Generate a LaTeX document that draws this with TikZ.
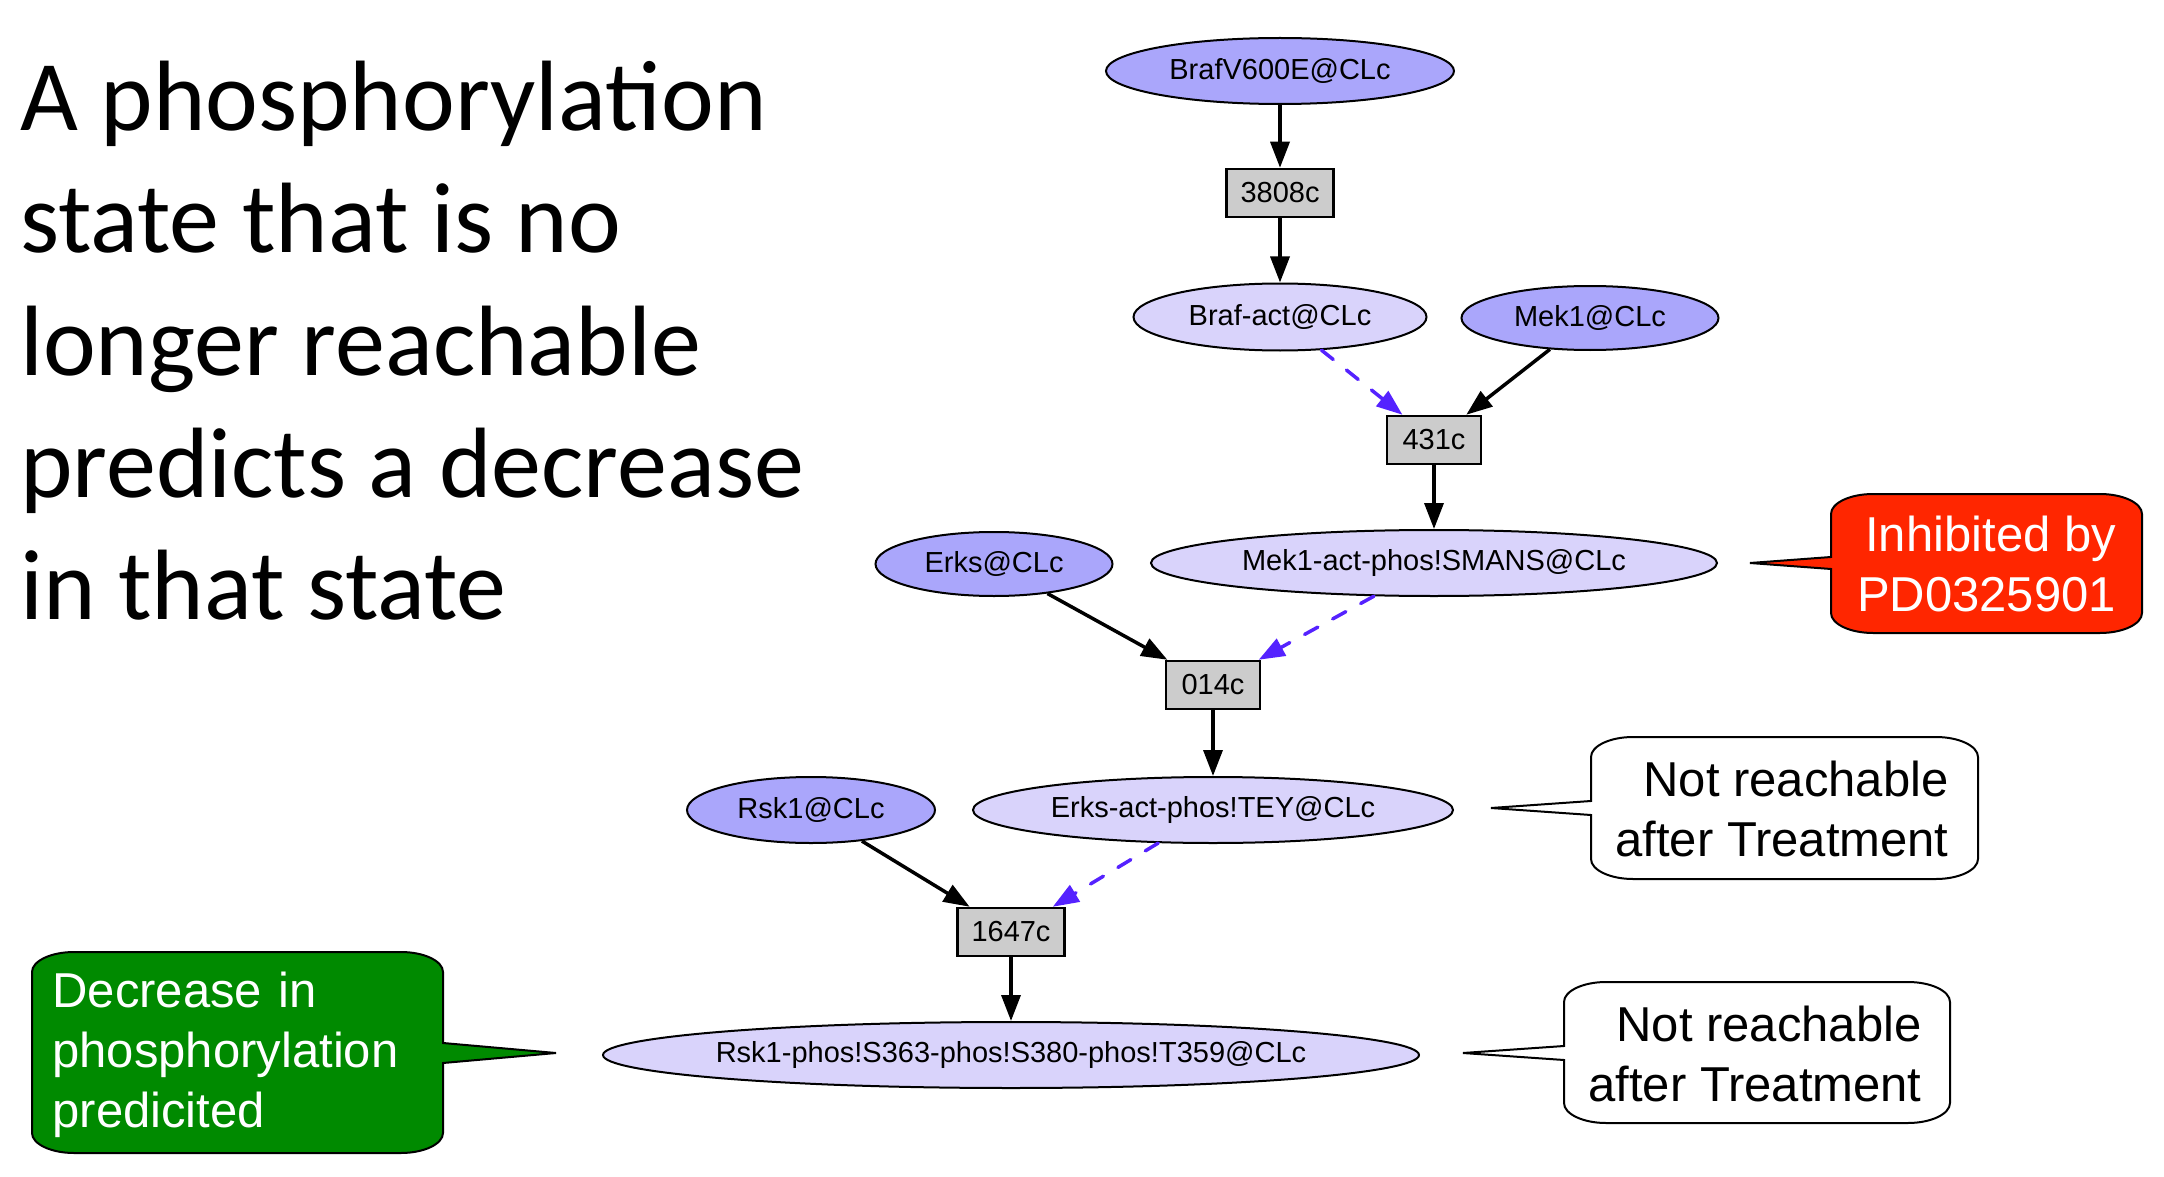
\documentclass[tikz,border=0pt]{standalone}
\usepackage{fontspec}
\setmainfont{Liberation Sans}
\newfontfamily\titlefont{Carlito}
\usetikzlibrary{arrows.meta,shapes.geometric}
\definecolor{darkell}{RGB}{170,166,251}
\definecolor{lightell}{RGB}{217,211,251}
\definecolor{boxgray}{RGB}{204,204,204}
\definecolor{dashblue}{RGB}{85,34,255}
\definecolor{calred}{RGB}{255,38,0}
\definecolor{calgreen}{RGB}{0,138,0}
% callout with pointer on the left side
\newcommand\mycallout[8]{%
 \draw[calloutline, fill=#8]
 ({#1+42},#2) -- ({#3-42},#2) .. controls ({#3-19},#2) and (#3,{#2+9}) .. (#3,{#2+20})
 -- (#3,{#4-20}) .. controls (#3,{#4-9}) and ({#3-19},#4) .. ({#3-42},#4)
 -- ({#1+42},#4) .. controls ({#1+19},#4) and (#1,{#4-9}) .. (#1,{#4-20})
 -- (#1,{#6+#7}) -- (#5,#6) -- (#1,{#6-#7})
 -- (#1,{#2+20}) .. controls (#1,{#2+9}) and ({#1+19},#2) .. ({#1+42},#2) -- cycle;}
% callout with pointer on the right side
\newcommand\mycalloutR[8]{%
 \draw[calloutline, fill=#8]
 ({#1+42},#2) -- ({#3-42},#2) .. controls ({#3-19},#2) and (#3,{#2+9}) .. (#3,{#2+20})
 -- (#3,{#6-#7}) -- (#5,#6) -- (#3,{#6+#7})
 -- (#3,{#4-20}) .. controls (#3,{#4-9}) and ({#3-19},#4) .. ({#3-42},#4)
 -- ({#1+42},#4) .. controls ({#1+19},#4) and (#1,{#4-9}) .. (#1,{#4-20})
 -- (#1,{#2+20}) .. controls (#1,{#2+9}) and ({#1+19},#2) .. ({#1+42},#2) -- cycle;}
\begin{document}
\begin{tikzpicture}[x=1pt,y=-1pt,
  titleline/.style={font=\titlefont\fontsize{100}{122}\selectfont, inner sep=0pt, anchor=base west},
  ell/.style={ellipse, draw, line width=2pt, inner sep=0pt, font=\fontsize{29}{35}\selectfont},
  dark/.style={ell, fill=darkell},
  light/.style={ell, fill=lightell},
  rbox/.style={rectangle, draw, line width=2.5pt, fill=boxgray, inner xsep=14pt, inner ysep=0pt, minimum width=94pt, minimum height=48pt, font=\fontsize{29}{35}\selectfont},
  arr/.style={line width=3.5pt, -{Triangle[length=26pt,width=19pt]}},
  darr/.style={line width=3.5pt, dashblue, line cap=round, dash pattern=on 15pt off 17pt, -{Triangle[length=26pt,width=19pt]}},
  calloutline/.style={line width=2pt, draw=black},
  ctext/.style={font=\fontsize{49}{60}\selectfont, inner sep=0pt}
]
\useasboundingbox (0,0) rectangle (2164,1177);

% title
\node[titleline] (t1) at (20,131) {A phosphorylation};
\node[titleline] (t2) at (20,253) {state that is no};
\node[titleline] (t3) at (20,375) {longer reachable};
\node[titleline] (t4) at (20,497) {predicts a decrease};
\node[titleline] (t5) at (20,619) {in that state};

% graph nodes
\node[dark, minimum width=348pt, minimum height=66pt] (n1) at (1280,71) {BrafV600E@CLc};
\node[rbox] (b1) at (1280,193) {3808c};
\node[light, minimum width=293pt, minimum height=67pt] (n2) at (1280,317) {Braf-act@CLc};
\node[dark, minimum width=257pt, minimum height=64pt] (n3) at (1590,318) {Mek1@CLc};
\node[rbox] (b2) at (1434,440) {431c};
\node[light, minimum width=566pt, minimum height=66pt] (n4) at (1434,563) {Mek1-act-phos!SMANS@CLc};
\node[dark, minimum width=237pt, minimum height=64pt] (n5) at (994,564) {Erks@CLc};
\node[rbox] (b3) at (1213,685) {014c};
\node[light, minimum width=480pt, minimum height=66pt] (n6) at (1213,810) {Erks-act-phos!TEY@CLc};
\node[dark, minimum width=248pt, minimum height=66pt] (n7) at (811,810) {Rsk1@CLc};
\node[rbox] (b4) at (1011,932) {1647c};
\node[light, minimum width=816pt, minimum height=66pt] (n8) at (1011,1055) {\makebox[0pt]{Rsk1-phos!S363-phos!S380-phos!T359@CLc}};

% edges
\draw[arr] (n1) -- (b1);
\draw[arr] (b1) -- (n2);
\draw[darr] (n2) -- (b2);
\draw[arr] (n3) -- (b2);
\draw[arr] (b2) -- (n4);
\draw[arr] (n5) -- (b3);
\draw[darr] (n4) -- (b3);
\draw[arr] (b3) -- (n6);
\draw[arr] (n7) -- (b4);
\draw[darr] (n6) -- (b4);
\draw[arr] (b4) -- (n8);

% callouts
\mycallout{1831}{494}{2142}{633}{1750}{563}{6}{calred}
\node[ctext, text=white, align=right] (c1) at (1986.5,564) {Inhibited by\\PD0325901};

\mycallout{1591}{737}{1978}{879}{1491}{808}{7}{white}
\node[ctext, align=right] (c2) at (1782,809) {Not reachable\\after Treatment};

\mycallout{1564}{982}{1950}{1123}{1463}{1053}{7}{white}
\node[ctext, align=right] (c3) at (1755,1054) {Not reachable\\after Treatment};

\mycalloutR{32}{952}{443}{1153}{556}{1053}{10}{calgreen}
\node[ctext, text=white, text width=378pt, align=left] (c4) at (241.5,1055) {Decrease in\\phosphorylation\\predicited};
\end{tikzpicture}
\end{document}
